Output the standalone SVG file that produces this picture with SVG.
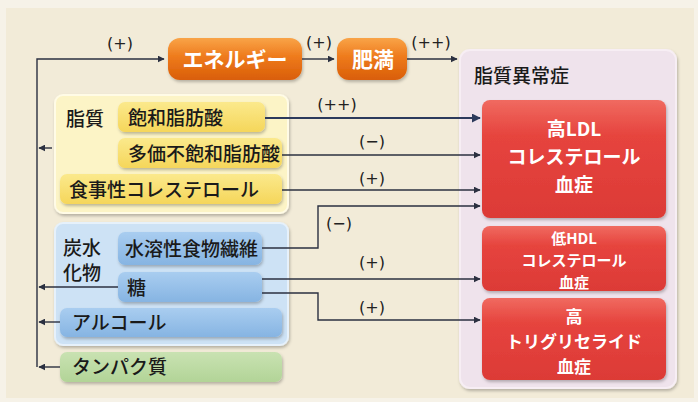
<svg xmlns="http://www.w3.org/2000/svg" width="698" height="402" viewBox="0 0 698 402">
<defs>
<linearGradient id="gOrange" x1="0" y1="0" x2="0" y2="1"><stop offset="0" stop-color="#f9a448"/><stop offset="0.45" stop-color="#ee7a1c"/><stop offset="1" stop-color="#d95e08"/></linearGradient>
<linearGradient id="gRed" x1="0" y1="0" x2="0" y2="1"><stop offset="0" stop-color="#f06a60"/><stop offset="0.3" stop-color="#e6443e"/><stop offset="1" stop-color="#dc3a36"/></linearGradient>
<linearGradient id="gYellow" x1="0" y1="0" x2="0" y2="1"><stop offset="0" stop-color="#fbe98c"/><stop offset="1" stop-color="#f5d65a"/></linearGradient>
<linearGradient id="gBlue" x1="0" y1="0" x2="0" y2="1"><stop offset="0" stop-color="#a9cdf0"/><stop offset="1" stop-color="#86b4e2"/></linearGradient>
<linearGradient id="gGreen" x1="0" y1="0" x2="0" y2="1"><stop offset="0" stop-color="#c9e2b2"/><stop offset="1" stop-color="#b2d497"/></linearGradient>
<filter id="sh" x="-10%" y="-10%" width="120%" height="130%"><feDropShadow dx="1" dy="2" stdDeviation="1.5" flood-color="#000" flood-opacity="0.25"/></filter>
<marker id="ah" viewBox="0 0 10 10" refX="9" refY="5" markerWidth="7" markerHeight="7" markerUnits="userSpaceOnUse" orient="auto"><path d="M0,0 L10,5 L0,10 z" fill="#2b3040"/></marker>
<marker id="ahB" viewBox="0 0 10 10" refX="9" refY="5" markerWidth="9" markerHeight="9" markerUnits="userSpaceOnUse" orient="auto"><path d="M0,0 L10,5 L0,10 z" fill="#2c3a5c"/></marker>
</defs>
<style>
.t{font-family:"Noto Sans CJK JP","Noto Sans",sans-serif;fill:#1a1a1a;font-size:19px;font-weight:500;}
.w{font-family:"Noto Sans CJK JP","Noto Sans",sans-serif;fill:#ffffff;font-weight:bold;text-anchor:middle;}
.lb{font-family:"DejaVu Sans","Noto Sans CJK JP",sans-serif;fill:#222;font-size:16px;}
.c{fill:none;stroke:#2b3040;stroke-width:1.4;}
.cb{fill:none;stroke:#2c3a5c;stroke-width:2.2;}
</style>
<rect width="698" height="402" fill="#f6f2e8"/>
<rect x="6" y="8" width="688" height="390" fill="#f2ebd8"/>

<g id="dyslipidemia">
<rect x="460" y="50" width="216" height="338" rx="10" fill="#efe3ec" stroke="#f7eef4" stroke-width="2" filter="url(#sh)"/>
<text class="t" x="474" y="83" font-size="19">脂質異常症</text>
</g>

<g id="energy">
<rect x="168" y="38" width="134" height="42" rx="12" fill="url(#gOrange)" filter="url(#sh)"/>
<text class="w" x="235" y="67" font-size="21">エネルギー</text>
</g>
<g id="obesity">
<rect x="337" y="38" width="70" height="42" rx="12" fill="url(#gOrange)" filter="url(#sh)"/>
<text class="w" x="373" y="67" font-size="21">肥満</text>
</g>

<g id="highLDL">
<rect x="482" y="100" width="184" height="118" rx="8" fill="url(#gRed)" filter="url(#sh)"/>
<text class="w" font-size="19"><tspan x="574" y="136">高LDL</tspan><tspan x="574" y="164">コレステロール</tspan><tspan x="574" y="192">血症</tspan></text>
</g>
<g id="lowHDL">
<rect x="482" y="226" width="184" height="65" rx="8" fill="url(#gRed)" filter="url(#sh)"/>
<text class="w" font-size="15"><tspan x="574" y="244">低HDL</tspan><tspan x="574" y="266">コレステロール</tspan><tspan x="574" y="288">血症</tspan></text>
</g>
<g id="highTG">
<rect x="482" y="298" width="184" height="82" rx="8" fill="url(#gRed)" filter="url(#sh)"/>
<text class="w" font-size="17"><tspan x="574" y="323">高</tspan><tspan x="574" y="348">トリグリセライド</tspan><tspan x="574" y="373">血症</tspan></text>
</g>

<g id="lipid">
<rect x="55" y="95" width="233" height="118" rx="8" fill="#fcf4c6" stroke="#fffbe6" stroke-width="2" filter="url(#sh)"/>
<text class="t" x="66" y="126" font-size="20">脂質</text>
</g>
<g id="saturated">
<rect x="118" y="102" width="147" height="30" rx="7" fill="url(#gYellow)" filter="url(#sh)"/>
<text class="t" x="128" y="125" font-size="20">飽和脂肪酸</text>
</g>
<g id="polyunsaturated">
<rect x="118" y="138" width="164" height="30" rx="7" fill="url(#gYellow)" filter="url(#sh)"/>
<text class="t" x="128" y="161" font-size="18">多価不飽和脂肪酸</text>
</g>
<g id="cholesterol">
<rect x="60" y="174" width="222" height="30" rx="7" fill="url(#gYellow)" filter="url(#sh)"/>
<text class="t" x="69" y="197" font-size="20">食事性コレステロール</text>
</g>

<g id="carbohydrate">
<rect x="55" y="223" width="233" height="122" rx="8" fill="#cde2f5" stroke="#e6f1fb" stroke-width="2" filter="url(#sh)"/>
<text class="t" font-size="17"><tspan x="63" y="255">炭水</tspan><tspan x="63" y="280">化物</tspan></text>
</g>
<g id="fiber">
<rect x="118" y="232" width="144" height="33" rx="7" fill="url(#gBlue)" filter="url(#sh)"/>
<text class="t" x="125" y="256" font-size="18">水溶性食物繊維</text>
</g>
<g id="sugar">
<rect x="118" y="272" width="144" height="30" rx="7" fill="url(#gBlue)" filter="url(#sh)"/>
<text class="t" x="127" y="295" font-size="19">糖</text>
</g>
<g id="alcohol">
<rect x="60" y="308" width="222" height="29" rx="7" fill="url(#gBlue)" filter="url(#sh)"/>
<text class="t" x="72" y="330" font-size="20">アルコール</text>
</g>
<g id="protein">
<rect x="60" y="352" width="222" height="30" rx="7" fill="url(#gGreen)" filter="url(#sh)"/>
<text class="t" x="72" y="374" font-size="20">タンパク質</text>
</g>

<g id="connectors">
<path class="c" d="M37,367 V59 H164" marker-end="url(#ah)"/>
<path class="c" d="M302,59 H334" marker-end="url(#ah)"/>
<path class="c" d="M407,59 H457" marker-end="url(#ah)"/>
<path class="c" d="M52,148 H39" marker-end="url(#ah)"/>
<path class="c" d="M118,287 H39" marker-end="url(#ah)"/>
<path class="c" d="M60,322 H39" marker-end="url(#ah)"/>
<path class="c" d="M60,367 H39" marker-end="url(#ah)"/>
<path class="cb" d="M265,118 H480" marker-end="url(#ahB)"/>
<path class="c" d="M282,155 H480" marker-end="url(#ah)"/>
<path class="c" d="M282,190 H480" marker-end="url(#ah)"/>
<path class="c" d="M262,248 H318 V206 H480" marker-end="url(#ah)"/>
<path class="c" d="M262,279 H480" marker-end="url(#ah)"/>
<path class="c" d="M262,293 H318 V320 H480" marker-end="url(#ah)"/>
<text class="lb" x="120" y="49" text-anchor="middle">(+)</text>
<text class="lb" x="319" y="48" text-anchor="middle">(+)</text>
<text class="lb" x="431" y="48" text-anchor="middle">(++)</text>
<text class="lb" x="337" y="110" text-anchor="middle">(++)</text>
<text class="lb" x="372" y="147" text-anchor="middle">(−)</text>
<text class="lb" x="372" y="184" text-anchor="middle">(+)</text>
<text class="lb" x="339" y="229" text-anchor="middle">(−)</text>
<text class="lb" x="372" y="268" text-anchor="middle">(+)</text>
<text class="lb" x="372" y="313" text-anchor="middle">(+)</text>
</g>
</svg>
